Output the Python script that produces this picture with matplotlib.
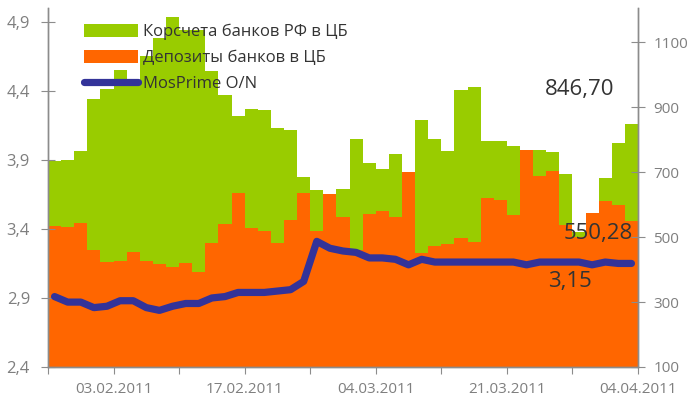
import matplotlib

matplotlib.use("Agg")
import matplotlib.pyplot as plt
import numpy as np

plt.rcParams["font.family"] = ["Open Sans", "DejaVu Sans"]

# daily values, one per business day (27.01.2011 - 04.04.2011)
korschet = [735, 738, 765, 925, 955, 1014, 977, 1057, 1113, 1177,
            1137, 1137, 1012, 938, 872, 894, 891, 835, 829, 685,
            645, 615, 648, 801, 728, 709, 755, 680, 860, 801,
            765, 952, 961, 795, 795, 780, 750, 768, 762, 694,
            516, 560, 683, 790, 846.70]
deposits = [535, 532, 544, 460, 424, 426, 455, 426, 418, 408,
            421, 393, 482, 540, 637, 529, 518, 482, 552, 636,
            518, 632, 562, 460, 571, 580, 562, 701, 452, 473,
            478, 498, 486, 621, 614, 568, 768, 688, 704, 537,
            501, 575, 611, 598, 550.28]
mosprime = [2.91, 2.87, 2.87, 2.83, 2.84, 2.88, 2.88, 2.83, 2.81, 2.84,
            2.86, 2.86, 2.90, 2.91, 2.94, 2.94, 2.94, 2.95, 2.96, 3.02,
            3.31, 3.26, 3.24, 3.23, 3.19, 3.19, 3.18, 3.14, 3.18, 3.16,
            3.16, 3.16, 3.16, 3.16, 3.16, 3.16, 3.14, 3.16, 3.16, 3.16,
            3.16, 3.14, 3.16, 3.15, 3.15]
date_labels = ["", "03.02.2011", "", "17.02.2011", "", "04.03.2011",
               "", "21.03.2011", "", "04.04.2011"]
left_ticks = [2.4, 2.9, 3.4, 3.9, 4.4, 4.9]
right_ticks = [100, 300, 500, 700, 900, 1100]

GREEN = "#99cc00"
ORANGE = "#ff6600"
BLUE = "#333399"
GREY = "#8c8c8c"
TXT = "#7f7f7f"
DARK = "#333333"

n = len(korschet)
x = np.arange(n)

fig = plt.figure(figsize=(6.89, 4.03), dpi=100)
ax = fig.add_axes([48 / 689, 36 / 403, 590 / 689, 359 / 403])

# bars (right scale) on the base axes, line (left scale) on the twin
ax.bar(x, korschet, width=1.0, align="edge", color=GREEN, linewidth=0,
       label="Корсчета банков РФ в ЦБ")
ax.bar(x, deposits, width=1.0, align="edge", color=ORANGE, linewidth=0,
       label="Депозиты банков в ЦБ")
ax.set_ylim(100, 1205)
ax.set_xlim(0, n)

axl = ax.twinx()
axl.plot(x + 0.5, mosprime, color=BLUE, lw=5.2, solid_capstyle="round",
         solid_joinstyle="round", label="MosPrime O/N")
axl.set_ylim(2.4, 5.0)

# twinx puts the base axis ticks on the left, so swap sides here
ax.yaxis.tick_right()
axl.yaxis.tick_left()
ax.set_yticks(right_ticks)
ax.set_yticklabels([str(v) for v in right_ticks])
axl.set_yticks(left_ticks)
axl.set_yticklabels([f"{v:.1f}".replace(".", ",") for v in left_ticks])

ax.set_xticks(np.arange(0, n + 1, 5))
ax.set_xticklabels(date_labels)

for a in (ax, axl):
    a.spines["top"].set_visible(False)
    for s in ("left", "right", "bottom"):
        a.spines[s].set_color(GREY)
        a.spines[s].set_linewidth(1.0)
ax.tick_params(axis="x", direction="out", length=5, color=GREY,
               labelcolor=TXT, labelsize=11, pad=6)
ax.tick_params(axis="y", direction="inout", length=10, color=GREY,
               labelcolor=TXT, labelsize=11, pad=6)
axl.tick_params(axis="y", direction="inout", length=10, color=GREY,
                labelcolor=TXT, labelsize=12, pad=8)

h1, l1 = ax.get_legend_handles_labels()
h2, l2 = axl.get_legend_handles_labels()
axl.legend(h1 + h2, l1 + l2, loc="upper left", bbox_to_anchor=(0.05, 0.975),
           frameon=False, fontsize=12, handlelength=3.2, handleheight=0.8,
           handletextpad=0.35, labelspacing=0.6, labelcolor=DARK,
           borderaxespad=0)

fig.text(580 / 689, 1 - 90 / 403, "846,70", fontsize=16, color=DARK,
         ha="center", va="center")
fig.text(598 / 689, 1 - 233 / 403, "550,28", fontsize=16, color=DARK,
         ha="center", va="center")
fig.text(570 / 689, 1 - 282 / 403, "3,15", fontsize=16, color=DARK,
         ha="center", va="center")

fig.savefig("out.png", dpi=100)
